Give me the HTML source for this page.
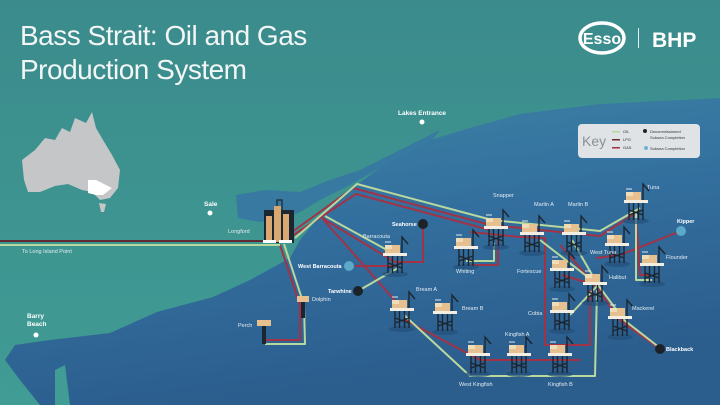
<!DOCTYPE html>
<html><head><meta charset="utf-8"><style>
html,body{margin:0;padding:0;width:720px;height:405px;overflow:hidden;background:#3f8f8f}
svg{display:block}
text{font-family:"Liberation Sans",sans-serif}
</style></head><body>
<svg width="720" height="405" viewBox="0 0 720 405" xmlns="http://www.w3.org/2000/svg">
<defs>
<linearGradient id="bg" x1="0" y1="0" x2="0" y2="1">
<stop offset="0" stop-color="#3b8b8c"/><stop offset="1" stop-color="#409c94"/></linearGradient>
<linearGradient id="sea" x1="0" y1="0" x2="0.3" y2="1">
<stop offset="0" stop-color="#3d86a6"/><stop offset="0.5" stop-color="#336f9e"/><stop offset="1" stop-color="#2b5d8d"/></linearGradient>
<g id="p">
<ellipse cx="0" cy="19" rx="13" ry="3" fill="#23507a" opacity="0.7"/>
<path d="M-7 0V18M-2.5 0V18M2.5 0V18M7 0V18M-7 8L7 13M7 8L-7 13" stroke="#1c2630" stroke-width="1.4" fill="none"/>
<rect x="-10" y="-10" width="15" height="8" fill="#e6c08e"/>
<rect x="-10" y="-10" width="7" height="4" fill="#f1dcb8"/>
<rect x="-12" y="-2" width="24" height="3" fill="#f4eee2"/>
<path d="M7 -2V-18L13 -11" stroke="#1c2630" stroke-width="1.4" fill="none"/>
<path d="M-10 -13h6" stroke="#dfe8ee" stroke-width="1"/>
</g>
</defs>
<rect width="720" height="405" fill="url(#bg)"/>
<path d="M720 98 L600 104 L520 114 L470 128 L430 140 L400 150 L377 170 L350 190 L320 215 L300 240 L290 258 L250 280 L213 297 L157 312 L110 333 L50 340 L15 345 L5 360 L20 380 L40 405 L720 405 Z" fill="url(#sea)"/>
<path d="M0 392 L8 380 L14 405 L0 405Z" fill="#409c94"/>
<path d="M55 370 L65 365 L70 405 L55 405Z" fill="#409c94"/>
<path d="M236 195 L265 190 L300 192 L330 180 L360 170 L410 145 L440 130 L430 142 L390 162 L350 185 L320 200 L300 212 L285 218 L260 222 L238 218 Z" fill="#3779a0"/>
<path d="M22 160 L35 150 L45 138 L55 140 L62 128 L70 132 L75 118 L86 123 L92 112 L96 128 L103 140 L112 155 L120 170 L118 188 L110 198 L100 200 L92 192 L82 190 L68 184 L55 186 L40 192 L28 192 L24 180 Z" fill="#c4c6c8"/>
<path d="M88 180 L96 180 L104 184 L112 188 L103 195 L96 195 L88 193 Z" fill="#fff"/>
<path d="M99 203 L106 204 L104 212 L101 212Z" fill="#c4c6c8"/>
<text x="20" y="45" font-size="28" fill="#f2f6f6" letter-spacing="-0.5">Bass Strait: Oil and Gas</text>
<text x="20" y="79" font-size="28" fill="#f2f6f6" letter-spacing="-0.5">Production System</text>
<ellipse cx="602" cy="38" rx="22" ry="15" fill="none" stroke="#fff" stroke-width="3.5"/>
<text x="602" y="44" font-size="16" font-weight="bold" fill="#fff" text-anchor="middle">Esso</text>
<rect x="638" y="28" width="1" height="20" fill="#e4efef"/>
<text x="652" y="47" font-size="21" font-weight="bold" fill="#fff">BHP</text>
<rect x="578" y="124" width="122" height="34" rx="4" fill="#dfe3e6"/>
<text x="582" y="146" font-size="14" fill="#8a9196">Key</text>
<rect x="612" y="131" width="8" height="1.5" fill="#b9d89e"/><text x="623" y="133" font-size="4" fill="#333">OIL</text>
<rect x="612" y="139" width="8" height="1.5" fill="#6b2a32"/><text x="623" y="141" font-size="4" fill="#333">LPG</text>
<rect x="612" y="147" width="8" height="1.5" fill="#a23347"/><text x="623" y="149" font-size="4" fill="#333">GAS</text>
<circle cx="645" cy="131" r="2" fill="#222"/><text x="650" y="133" font-size="4" fill="#333">Decommissioned</text><text x="650" y="139" font-size="4" fill="#333">Subsea Completion</text>
<circle cx="646" cy="148" r="2" fill="#6db3d6"/><text x="650" y="150" font-size="4" fill="#333">Subsea Completion</text>
<g fill="none" stroke="#a23347" stroke-width="2" stroke-linejoin="round">
<path d="M292 232 L353 188 L490 225 L600 236 L636 213"/>
<path d="M292 236 L356 194 L490 230"/>
<path d="M322 218 L395 262 L423 262 L423 226"/>
<path d="M322 218 L398 304"/>
<path d="M395 266 L355 266"/>
<path d="M280 245 L300 305 L300 340 L265 340"/>
<path d="M470 232 L520 237 L545 238 L545 345 L590 345 L590 290"/>
<path d="M560 245 L595 285 L620 320 L660 349"/>
<path d="M681 231 L620 255 L596 258"/>
<path d="M636 215 L640 275 L650 275"/>
<path d="M562 275 L595 285"/>
<path d="M405 320 L480 360 L580 360"/>
<path d="M498 240 L498 265 L470 265"/>
</g>
<g fill="none" stroke="#b9d89e" stroke-width="2" stroke-linejoin="round">
<path d="M295 238 L357 184 L492 220 L600 231 L640 208"/>
<path d="M325 216 L398 256"/>
<path d="M358 291 L398 268"/>
<path d="M284 244 L304 305 L305 344 L265 344"/>
<path d="M404 315 L470 376 L595 376 L597 290"/>
<path d="M540 240 L598 285 L624 320 L660 348"/>
<path d="M598 285 L570 315"/>
<path d="M636 212 L636 280 L652 280"/>
<path d="M494 243 L494 261 L466 261"/>
<path d="M572 240 L598 285"/>
</g>
<rect x="0" y="240" width="280" height="2" fill="#5e2a30"/>
<rect x="0" y="244" width="280" height="2" fill="#b9d89e"/>
<circle cx="423" cy="224" r="5" fill="#1c2228"/>
<circle cx="358" cy="291" r="5" fill="#1c2228"/>
<circle cx="660" cy="349" r="5" fill="#1c2228"/>
<circle cx="349" cy="266" r="5" fill="#5ca8c9"/>
<circle cx="681" cy="231" r="5" fill="#5ca8c9"/>
<circle cx="210" cy="213" r="2.5" fill="#fff"/>
<circle cx="422" cy="122" r="2.5" fill="#fff"/>
<circle cx="36" cy="335" r="2.5" fill="#fff"/>
<g>
<rect x="264" y="210" width="30" height="33" fill="#1c2630"/>
<rect x="266" y="216" width="6" height="26" fill="#d9a872"/>
<rect x="274" y="206" width="7" height="36" fill="#d9a872"/>
<rect x="283" y="214" width="6" height="28" fill="#d9a872"/>
<path d="M277 206 V200 H282 V212" stroke="#1c2630" stroke-width="1.2" fill="none"/>
<rect x="263" y="240" width="13" height="3" fill="#fff"/><rect x="279" y="240" width="13" height="3" fill="#fff"/>
</g>
<use href="#p" x="395" y="255"/>
<use href="#p" x="402" y="310"/>
<use href="#p" x="445" y="313"/>
<use href="#p" x="496" y="228"/>
<use href="#p" x="466" y="248"/>
<use href="#p" x="532" y="234"/>
<use href="#p" x="574" y="234"/>
<use href="#p" x="636" y="202"/>
<use href="#p" x="617" y="245"/>
<use href="#p" x="652" y="265"/>
<use href="#p" x="562" y="270"/>
<use href="#p" x="595" y="284"/>
<use href="#p" x="562" y="312"/>
<use href="#p" x="620" y="318"/>
<use href="#p" x="478" y="355"/>
<use href="#p" x="519" y="355"/>
<use href="#p" x="560" y="355"/>
<g><rect x="297" y="296" width="12" height="6" fill="#e6c08e"/><rect x="301" y="302" width="4" height="16" fill="#1c2630"/></g>
<g><rect x="257" y="320" width="14" height="6" fill="#e6c08e"/><rect x="262" y="326" width="4" height="18" fill="#1c2630"/></g>
<g font-size="5.5" fill="#e4edf2">
<text x="228" y="233">Longford</text>
<text x="22" y="253">To Long Island Point</text>
<text x="204" y="206" font-size="6.5" font-weight="bold" fill="#fff">Sale</text>
<text x="398" y="115" font-size="6.5" font-weight="bold" fill="#fff">Lakes Entrance</text>
<text x="27" y="318" font-size="6.5" font-weight="bold" fill="#fff">Barry</text>
<text x="27" y="326" font-size="6.5" font-weight="bold" fill="#fff">Beach</text>
<text x="363" y="238">Barracouta</text>
<text x="392" y="226" font-weight="bold" fill="#fff">Seahorse</text>
<text x="298" y="268" font-weight="bold" fill="#fff">West Barracouta</text>
<text x="328" y="293" font-weight="bold" fill="#fff">Tarwhine</text>
<text x="312" y="301">Dolphin</text>
<text x="238" y="327">Perch</text>
<text x="416" y="291">Bream A</text>
<text x="462" y="310">Bream B</text>
<text x="493" y="197">Snapper</text>
<text x="534" y="206">Marlin A</text>
<text x="568" y="206">Marlin B</text>
<text x="647" y="189">Tuna</text>
<text x="677" y="223" font-weight="bold" fill="#fff">Kipper</text>
<text x="590" y="254">West Tuna</text>
<text x="666" y="259">Flounder</text>
<text x="456" y="273">Whiting</text>
<text x="517" y="273">Fortescue</text>
<text x="609" y="279">Halibut</text>
<text x="528" y="315">Cobia</text>
<text x="632" y="310">Mackerel</text>
<text x="666" y="351" font-weight="bold" fill="#fff">Blackback</text>
<text x="505" y="336">Kingfish A</text>
<text x="459" y="386">West Kingfish</text>
<text x="548" y="386">Kingfish B</text>
</g>
</svg>
</body></html>
